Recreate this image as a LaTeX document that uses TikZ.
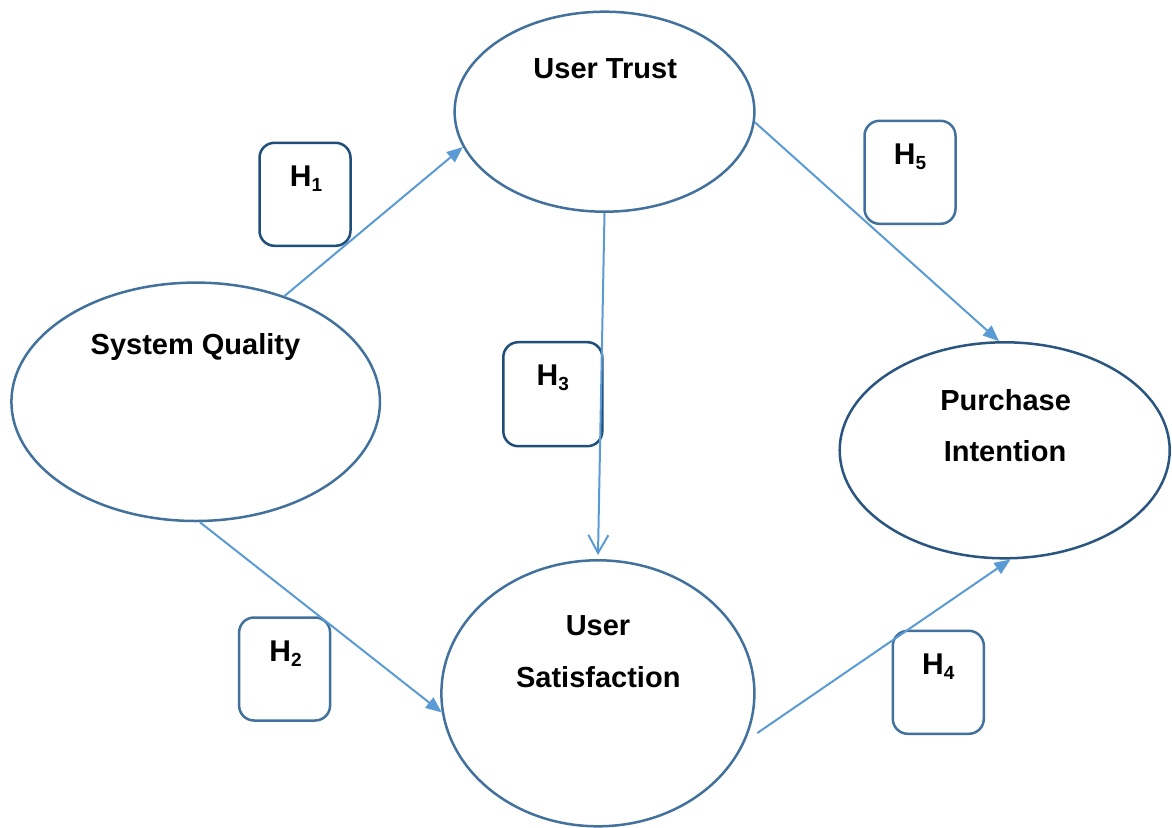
\documentclass[tikz,border=0pt]{standalone}
\usepackage{fontspec}
\setmainfont{Liberation Sans}
\usetikzlibrary{shapes.geometric,arrows.meta}

\definecolor{ellblue}{HTML}{41719C}
\definecolor{pidark}{HTML}{2A5580}
\definecolor{boxdark}{HTML}{1F4E79}
\definecolor{boxlight}{HTML}{41719C}
\definecolor{arrblue}{HTML}{5B9BD5}

\newcommand{\hsub}[1]{\raisebox{-5pt}{\fontsize{19}{19}\selectfont #1}}

\tikzset{
  construct/.style={ellipse, draw=ellblue, line width=2.5pt, inner sep=0pt},
  hypbox/.style={draw=boxlight, line width=2.5pt, rounded corners=15pt,
                 minimum width=91pt, minimum height=103pt, inner sep=0pt},
  ctext/.style={font=\fontsize{29}{35}\selectfont\bfseries, anchor=base, inner sep=0pt},
  htext/.style={font=\fontsize{30}{35}\selectfont\bfseries, anchor=base, inner sep=0pt},
  link/.style={draw=arrblue, line width=2pt,
               -{Triangle[length=16pt,width=13pt]}},
  openlink/.style={draw=arrblue, line width=2pt,
               -{Straight Barb[length=18pt,width=20pt,line width=2pt]}}
}

\begin{document}
\begin{tikzpicture}[x=1pt,y=-1pt]
  \useasboundingbox (0,0) rectangle (1172,827);

  % constructs
  \node[construct, minimum width=368.5pt, minimum height=238.4pt] (sq) at (195.7,401.8) {};
  \node[construct, minimum width=299.8pt, minimum height=200pt] (ut) at (604.5,111.7) {};
  \node[construct, minimum width=313pt, minimum height=266pt] (us) at (597.9,693.3) {};
  \node[construct, draw=pidark, minimum width=330pt, minimum height=216pt] (pi) at (1004.7,450.3) {};

  % construct names
  \node[ctext] (sqt) at (195.5,354) {System Quality};
  \node[ctext] (utt) at (605.2,78) {User Trust};
  \node[ctext] (ust1) at (598,635) {User};
  \node[ctext] (ust2) at (598.3,687.7) {Satisfaction};
  \node[ctext] (pit1) at (1005.6,410) {Purchase};
  \node[ctext] (pit2) at (1005,461.7) {Intention};

  % hypothesis boxes
  \node[hypbox, draw=boxdark] (h1) at (305,194.3) {};
  \node[hypbox] (h2) at (284.6,669) {};
  \node[hypbox, draw=boxdark, minimum width=99pt, minimum height=104pt] (h3) at (552.8,394.2) {};
  \node[hypbox] (h4) at (938.3,682.3) {};
  \node[hypbox] (h5) at (910,172.3) {};

  \node[htext] (h1t) at ([xshift=1pt,yshift=-45pt]h1.north) {H\hsub{1}};
  \node[htext] (h2t) at ([xshift=1pt,yshift=-45pt]h2.north) {H\hsub{2}};
  \node[htext] (h3t) at ([xshift=0pt,yshift=-45pt]h3.north) {H\hsub{3}};
  \node[htext] (h4t) at ([xshift=0pt,yshift=-45pt]h4.north) {H\hsub{4}};
  \node[htext] (h5t) at ([xshift=0pt,yshift=-45pt]h5.north) {H\hsub{5}};

  % hypothesised paths
  \draw[link] (sq.50.7) -- (ut.194.3);
  \draw[link] (sq.272) -- (us.187);
  \draw[openlink, shorten >=4pt] (ut.south) -- (us.north);
  \draw[link] ([shift={(8pt,-2pt)}]us.346) -- (pi.273.5);
  \draw[link] (ut.356) -- (pi.93);
\end{tikzpicture}
\end{document}
